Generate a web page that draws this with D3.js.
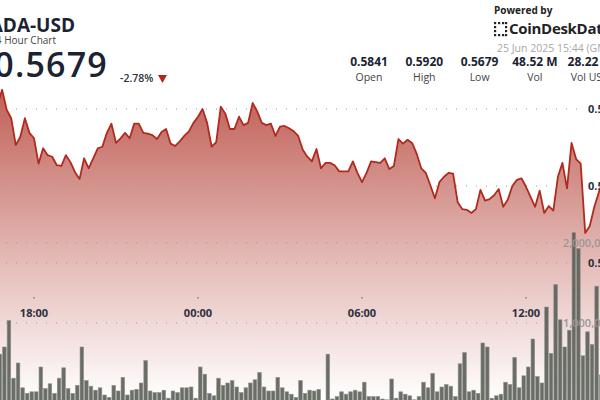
<!DOCTYPE html>
<html><head><meta charset="utf-8">
<script src="https://cdn.jsdelivr.net/npm/d3@7/dist/d3.min.js"></script>
<style>
html,body{margin:0;padding:0;background:#fff;overflow:hidden;}
svg{display:block;font-family:"Open Sans",sans-serif;}
</style></head>
<body><svg id="c" width="600" height="400"></svg>
<script>
// ---- data ----
const startTime = "2025-06-24T16:40:00Z";   // first 10-minute candle
const stepMinutes = 10;
const closes = [
0.5906,0.5925,0.5899,0.5888,0.5853,0.5864,0.5888,0.5869,0.5862,0.5829,
0.5849,0.5840,0.5838,0.5827,0.5826,0.5840,0.5831,0.5818,0.5809,0.5836,
0.5823,0.5836,0.5849,0.5851,0.5869,0.5881,0.5856,0.5862,0.5869,0.5862,
0.5881,0.5881,0.5869,0.5868,0.5866,0.5861,0.5870,0.5874,0.5855,0.5852,
0.5858,0.5865,0.5871,0.5882,0.5890,0.5900,0.5882,0.5851,0.5857,0.5903,
0.5894,0.5874,0.5874,0.5890,0.5879,0.5882,0.5908,0.5897,0.5882,0.5879,
0.5881,0.5865,0.5877,0.5878,0.5875,0.5871,0.5865,0.5847,0.5838,0.5832,
0.5848,0.5823,0.5830,0.5830,0.5827,0.5819,0.5819,0.5819,0.5832,0.5817,
0.5805,0.5817,0.5832,0.5831,0.5830,0.5836,0.5822,0.5826,0.5861,0.5855,
0.5860,0.5856,0.5842,0.5823,0.5817,0.5801,0.5784,0.5805,0.5812,0.5817,
0.5816,0.5779,0.5770,0.5769,0.5765,0.5770,0.5795,0.5781,0.5783,0.5788,
0.5796,0.5773,0.5782,0.5800,0.5808,0.5810,0.5799,0.5786,0.5773,0.5794,
0.5765,0.5774,0.5768,0.5812,0.5830,0.5797,0.5856,0.5835,0.5829,0.5739,
0.5748,0.5773,0.5792,0.5808
];
const volumesM = [
0.61,0.70,1.03,0.31,0.50,0.19,0.12,0.14,0.14,0.45,
0.18,0.24,0.12,0.31,0.44,0.18,0.12,0.22,0.70,0.28,
0.21,0.16,0.19,0.10,0.07,0.22,0.15,0.32,0.10,0.16,
0.17,0.25,0.53,0.15,0.13,0.13,0.16,0.06,0.15,0.13,
0.19,0.19,0.20,0.06,0.45,0.36,0.12,0.09,0.31,0.22,
0.25,0.28,0.20,0.13,0.19,0.25,0.29,0.38,0.20,0.15,
0.15,0.32,0.19,0.14,0.11,0.07,0.28,0.12,0.16,0.15,
0.17,0.01,0.61,0.05,0.08,0.14,0.11,0.14,0.16,0.14,
0.26,0.08,0.08,0.08,0.05,0.04,0.30,0.06,0.14,0.11,
0.09,0.04,0.08,0.26,0.19,0.37,0.14,0.20,0.23,0.21,
0.08,0.49,0.63,0.14,0.16,0.12,0.75,0.70,0.06,0.09,
0.11,0.26,0.23,0.57,0.19,0.34,0.45,0.80,0.33,0.25,
1.20,0.62,1.48,1.04,0.70,0.91,2.13,1.93,0.59,0.89,
0.73,1.46,0.35,0.42
];
const priceTicks = [0.59, 0.58, 0.57];
const priceTickLabels = ["0.590", "0.580", "0.570"];
const volumeTicks = [2000000, 1000000];
const volumeTickLabels = ["2,000,000", "1,000,000"];
const timeTicks = ["2025-06-24T18:00:00Z","2025-06-25T00:00:00Z","2025-06-25T06:00:00Z","2025-06-25T12:00:00Z"];
const timeTickLabels = ["18:00","00:00","06:00","12:00"];
const statValues = ["0.5841","0.5920","0.5679","48.52 M","28.22 M"];
const statLabels = ["Open","High","Low","Vol","Vol USD"];
const symbol = "ADA-USD", subtitle = "24 Hour Chart", lastPrice = "0.5679", changePct = "-2.78%";
const dateText = "25 Jun 2025 15:44 (GMT)";

// ---- build ----
const t0 = new Date(startTime).getTime();
const pts = closes.map((c,i)=>({t:new Date(t0 + i*stepMinutes*60000), p:c, v:volumesM[i]*1e6}));
const svg = d3.select("#c");

const x = d3.scaleTime()
  .domain([new Date(timeTicks[0]), new Date(timeTicks[3])])
  .range([34, 526]);
const y = d3.scaleLinear().domain([0.57, 0.59]).range([263, 109]);
const yv = d3.scaleLinear().domain([0, 2000000]).range([403, 243]);
const step = x(new Date(t0 + stepMinutes*60000)) - x(new Date(t0));

const defs = svg.append("defs");
const g = defs.append("linearGradient").attr("id","fillg")
  .attr("gradientUnits","userSpaceOnUse").attr("x1",0).attr("x2",0).attr("y1",90).attr("y2",400);
g.append("stop").attr("offset",0).attr("stop-color","#b44137").attr("stop-opacity",0.84);
g.append("stop").attr("offset",0.55).attr("stop-color","#b44137").attr("stop-opacity",0.36);
g.append("stop").attr("offset",1).attr("stop-color","#b44137").attr("stop-opacity",0);

// area
const area = d3.area().x(d=>x(d.t)).y0(403).y1(d=>y(d.p));
svg.append("path").datum(pts).attr("d",area).attr("fill","url(#fillg)");

// grid lines
const grid = svg.append("g");
grid.selectAll("line.p").data(priceTicks).join("line")
  .attr("x1",6).attr("x2",584).attr("y1",d=>y(d)).attr("y2",d=>y(d))
  .attr("stroke","#9a9a9a").attr("stroke-width",1.2).attr("stroke-dasharray","1,9");
grid.selectAll("line.v").data(volumeTicks).join("line")
  .attr("x1",6).attr("x2",560).attr("y1",d=>yv(d)).attr("y2",d=>yv(d))
  .attr("stroke","#9a9a9a").attr("stroke-width",1.2).attr("stroke-dasharray","1,9");

// volume bars
svg.append("g").selectAll("rect").data(pts).join("rect")
  .attr("x",d=>x(d.t)+0.5).attr("width",step-1)
  .attr("y",d=>yv(d.v)).attr("height",d=>403-yv(d.v))
  .attr("fill","#555a52").attr("fill-opacity",0.88)
  .attr("stroke","#8d908a").attr("stroke-width",0.6);

// line
svg.append("path").datum(pts)
  .attr("d", d3.line().x(d=>x(d.t)).y(d=>y(d.p)))
  .attr("fill","none").attr("stroke","#b02a1e").attr("stroke-width",1.8)
  .attr("stroke-linejoin","round");

// time axis
const ta = svg.append("g");
timeTicks.forEach((s,i)=>{
  const xx = x(new Date(s));
  ta.append("rect").attr("x",xx-0.75).attr("y",297).attr("width",1.5).attr("height",1.5).attr("fill","#888");
  ta.append("text").attr("x",xx).attr("y",317).attr("text-anchor","middle")
    .attr("font-size",11).attr("font-weight",700).attr("fill","#2b3140").text(timeTickLabels[i]);
});

// price labels
priceTicks.forEach((p,i)=>{
  svg.append("text").attr("x",588).attr("y",y(p)+4).attr("font-size",11).attr("font-weight",700)
    .attr("fill","#2b3140").text(priceTickLabels[i]);
});
volumeTicks.forEach((v,i)=>{
  svg.append("text").attr("x",563).attr("y",yv(v)+4).attr("font-size",11).attr("font-weight",600)
    .attr("fill","#9a9696").text(volumeTickLabels[i]);
});

// header left
svg.append("text").attr("x",75).attr("y",32).attr("text-anchor","end")
  .attr("font-size",19).attr("font-weight",700).attr("fill","#1b2333").text(symbol);
svg.append("text").attr("x",56).attr("y",44).attr("text-anchor","end")
  .attr("font-size",10).attr("fill","#444").text(subtitle);
svg.append("text").attr("x",108).attr("y",77).attr("text-anchor","end")
  .attr("font-size",34).attr("font-weight",600).attr("letter-spacing",1.2).attr("fill","#1b2333").text(lastPrice);
svg.append("text").attr("x",120).attr("y",82).attr("font-size",10.5).attr("font-weight",600)
  .attr("fill","#2b3140").text(changePct);
svg.append("path").attr("d","M158,75 L167,75 L162.5,83 Z").attr("fill","#b3271a");

// header right
svg.append("text").attr("x",494).attr("y",14).attr("font-size",10).attr("font-weight",700)
  .attr("fill","#222").text("Powered by");
const logo = svg.append("g").attr("fill","#222");
[[494,22],[494,26],[494,30],[494,34],[498,22],[502,22],[498,34],[502,34],[505,22],[505,34],[505,26],[505,30]].forEach(p=>{
  logo.append("rect").attr("x",p[0]).attr("y",p[1]).attr("width",2.2).attr("height",2.2);
});
svg.append("text").attr("x",509).attr("y",34).attr("font-size",15).attr("font-weight",700)
  .attr("fill","#222").attr("letter-spacing",-0.3).text("CoinDeskData");
svg.append("text").attr("x",497).attr("y",52).attr("font-size",10.5)
  .attr("fill","#a8a8a8").text(dateText);
statValues.forEach((s,i)=>{
  const cx = 369 + i*55.3;
  svg.append("text").attr("x",cx).attr("y",66).attr("text-anchor","middle").attr("font-size",12)
    .attr("font-weight",700).attr("fill","#1b2333").text(s);
  svg.append("text").attr("x",cx).attr("y",81).attr("text-anchor","middle").attr("font-size",10.5)
    .attr("fill","#444").text(statLabels[i]);
});
</script></body></html>
